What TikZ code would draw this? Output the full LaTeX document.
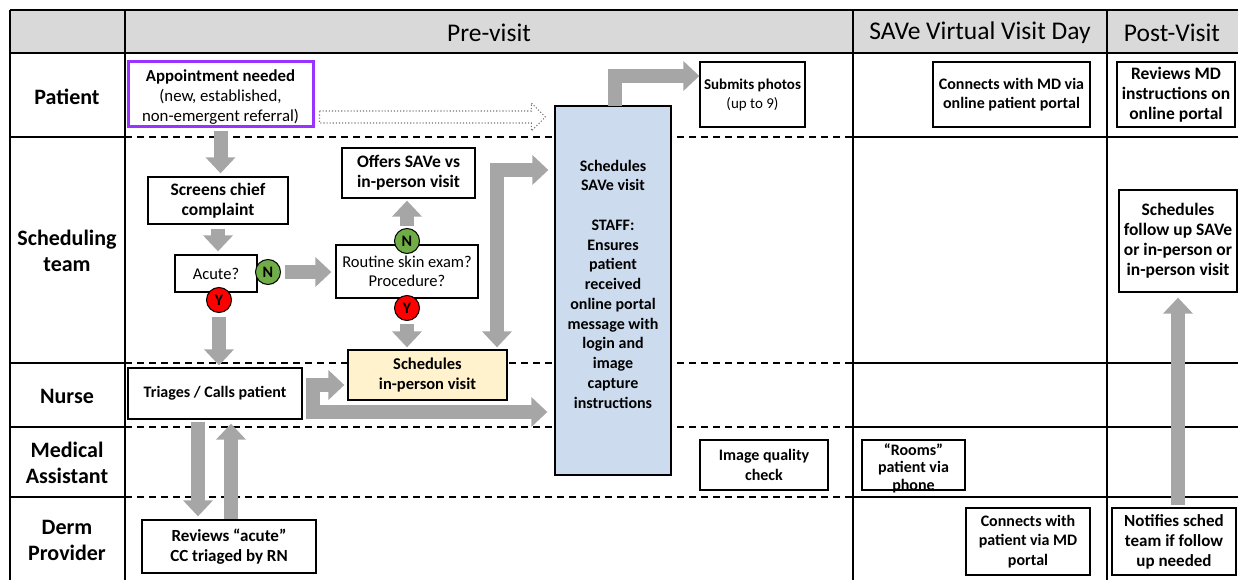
\documentclass[tikz,border=0pt]{standalone}
\usepackage{fontspec}
\setmainfont{Carlito}
\usetikzlibrary{arrows.meta,calc}
\definecolor{arrowgray}{HTML}{A6A6A6}
\definecolor{headgray}{HTML}{D9D9D9}
\definecolor{bluefill}{HTML}{CCDCEE}
\definecolor{yellowfill}{HTML}{FFF2CC}
\definecolor{purpleline}{HTML}{9933FF}
\definecolor{ngreen}{HTML}{70AD47}
\definecolor{yred}{HTML}{FF0000}
\newcommand\myFs[2]{\fontsize{#1}{#2}\selectfont\bfseries}
\newcommand\myFr[2]{\fontsize{#1}{#2}\selectfont}
\newcommand\myLabel{\fontsize{22}{26}\selectfont\bfseries}
\newcommand\myHead{\fontsize{25.5}{30}\selectfont}
\begin{document}
\begin{tikzpicture}[x=1pt,y=-1pt,
  pbox/.style={draw, line width=1.3pt, fill=white, align=center, inner sep=1pt, font=\myFs{16}{19.5}},
  rowlab/.style={align=center, font=\myLabel},
  headlab/.style={font=\myHead},
  tabline/.style={line width=1.5pt},
  dashline/.style={line width=1.3pt, dash pattern=on 7pt off 5pt},
  ba/.style={draw=arrowgray, line width=14pt, -{Triangle[width=29pt,length=16pt]}, line join=miter},
  bab/.style={draw=arrowgray, line width=14pt, {Triangle[width=29pt,length=16pt]}-{Triangle[width=29pt,length=16pt]}, line join=miter},
  circ/.style={circle, draw, line width=1pt, minimum size=25pt, inner sep=0pt, font=\myFs{16}{16}}]
\useasboundingbox (0,0) rectangle (1238,580);
% ---------- table ----------
\fill[headgray] (10,10) rectangle (1238,53);
\draw[line width=2pt] (10,10) -- (1238,10);
\draw[line width=2pt] (10,10) -- (10,580);
\draw[tabline] (10,53) -- (1238,53);
\foreach \xx in {125,853,1107} \draw[tabline] (\xx,10) -- (\xx,580);
\foreach \yy in {137,363,427,497} {
  \draw[tabline] (10,\yy) -- (125,\yy);
  \draw[dashline] (125,\yy) -- (853,\yy);
  \draw[tabline] (853,\yy) -- (1238,\yy);
}
% headers
\node[headlab] (hpre) at (489,33) {Pre-visit};
\node[headlab] (hsave) at (980,33) {SAVe Virtual Visit Day};
\node[headlab] (hpost) at (1172,33) {Post-Visit};
% row labels
\node[rowlab] (lpat) at (67,97) {Patient};
\node[rowlab] (lsch) at (67,251) {Scheduling\\team};
\node[rowlab] (lnur) at (67,396) {Nurse};
\node[rowlab] (lma) at (67,463) {Medical\\Assistant};
\node[rowlab] (lder) at (67,540) {Derm\\Provider};
% ---------- nodes ----------
\node[pbox, draw=purpleline, line width=3pt, minimum width=185, minimum height=65, font=\myFr{16.8}{20}] (appt) at (220.5,94.5)
  {\rule{0pt}{17pt}\textbf{Appointment needed}\\(new, established,\\non-emergent referral)};
\node[pbox, minimum width=105, minimum height=65, font=\myFs{15}{19}] (submits) at (752.5,94.5) {Submits photos\\\mdseries(up to 9)};
\node[pbox, minimum width=157, minimum height=65] (conmd) at (1011.5,94.5) {Connects with MD via\\online patient portal};
\node[pbox, minimum width=118, minimum height=65, font=\myFs{17.5}{20}] (revmd) at (1176,94.5) {Reviews MD\\instructions on\\online portal};
% blue box
\coordinate (c4) at (615,76);
\node[pbox, fill=bluefill, minimum width=116, minimum height=369] (blue) at (613,290.5) {};
\node[align=center, font=\myFs{16}{19.75}, inner sep=0pt] (blueT) at (613,284)
  {Schedules\\SAVe visit\\[19.75pt]STAFF:\\Ensures\\patient\\received\\online portal\\message with\\login and\\image\\capture\\instructions};
\draw[ba] ([yshift=-1pt]blue.north -| c4) |- (submits.west |- c4);
\node[pbox, minimum width=140, minimum height=47, font=\myFs{17.5}{20}] (screens) at (218,200.5) {Screens chief\\complaint};
\node[pbox, minimum width=82, minimum height=37, font=\myFr{16.5}{19.5}] (acute) at (216,273.5) {Acute?};
\node[pbox, minimum width=142, minimum height=53, font=\myFr{16.5}{19.5}] (routine) at (407,271.5) {Routine skin exam?\\Procedure?};
\node[pbox, minimum width=133, minimum height=50, font=\myFs{17.5}{20}] (offers) at (408.5,173) {Offers SAVe vs\\in-person visit};
\node[pbox, fill=yellowfill, minimum width=159, minimum height=50, font=\myFs{16.5}{20}] (schedip) at (427.5,375) {Schedules\\in-person visit};
\node[pbox, minimum width=174, minimum height=51] (triages) at (215,393.5) {Triages / Calls patient};
\node[pbox, minimum width=174, minimum height=53, font=\myFs{17}{20}] (revac) at (229,546.5) {Reviews “acute”\\CC triaged by RN};
\node[pbox, minimum width=128, minimum height=50] (imgq) at (764,465) {Image quality\\check};
\node[pbox, minimum width=103, minimum height=50] (rooms) at (913.5,465) {};
\node[align=center, font=\myFs{16}{17.5}, inner sep=0pt] (roomsT) at (913.5,468) {“Rooms”\\patient via\\phone};
\node[pbox, minimum width=124, minimum height=67] (conpt) at (1028,541.5) {Connects with\\patient via MD\\portal};
\node[pbox, minimum width=124, minimum height=67, font=\myFs{17}{20}] (notif) at (1174,541.5) {Notifies sched\\team if follow\\up needed};
\node[pbox, minimum width=118, minimum height=102, font=\myFs{17.5}{20}] (schfu) at (1178,241) {Schedules\\follow up SAVe\\or in-person or\\in-person visit};
% circles
\node[circ, fill=ngreen] (N1) at (268,272) {N};
\node[circ, fill=yred] (Y1) at (219,300) {Y};
\node[circ, fill=ngreen] (N2) at (407,241) {N};
\node[circ, fill=yred] (Y2) at (407,308) {Y};
% ---------- arrows ----------
\draw[ba, shorten <=3pt, shorten >=3pt] (appt.south) -- (appt.south |- screens.north);
\draw[ba, shorten <=4pt, shorten >=3pt] (screens.south) -- (screens.south |- acute.north);
\draw[ba, shorten <=4pt, shorten >=2pt] (Y1.south) -- (Y1.south |- triages.north);
\draw[ba, shorten <=4pt, shorten >=4pt] (N1.east) -- (routine.west |- N1.east);
\draw[ba, shorten <=2pt, shorten >=2pt] (N2.north) -- (offers.south -| N2.north);
\draw[ba, shorten <=3pt, shorten >=2pt] (Y2.south) -- (schedip.north -| Y2.south);
\coordinate (c1) at (497,170);
\draw[bab, shorten <=2pt, shorten >=6pt] (schedip.north -| c1) |- (blue.west |- c1);
\coordinate (c2) at (313,385);
\coordinate (c3) at (313,412);
\draw[ba, shorten >=3pt] ([yshift=7pt]c3) -- (c2) -- (schedip.west |- c2);
\draw[ba, shorten >=7pt] ([xshift=-7pt]c3) -- (blue.west |- c3);
\coordinate (d1) at (198,0);
\coordinate (u1) at (231,0);
\draw[ba, shorten <=2pt, shorten >=3pt] (triages.south -| d1) -- (revac.north -| d1);
\draw[ba, shorten <=0pt, shorten >=4pt] (revac.north -| u1) -- (triages.south -| u1);
\draw[ba, shorten <=2pt, shorten >=5pt] (notif.north -| schfu.south) -- (schfu.south);
% dotted hollow arrow
\coordinate (da) at ($(appt.east)+(5,22.5)$);
\coordinate (db) at ($(blue.west |- da)+(-9,0)$);
\draw[black!55, line width=1.1pt, dotted]
  ($(da)+(0,-6)$) -- ($(db)+(-14,-6)$) -- ($(db)+(-14,-14)$) -- (db) -- ($(db)+(-14,14)$) -- ($(db)+(-14,6)$) -- ($(da)+(0,6)$) -- cycle;
\end{tikzpicture}
\end{document}
